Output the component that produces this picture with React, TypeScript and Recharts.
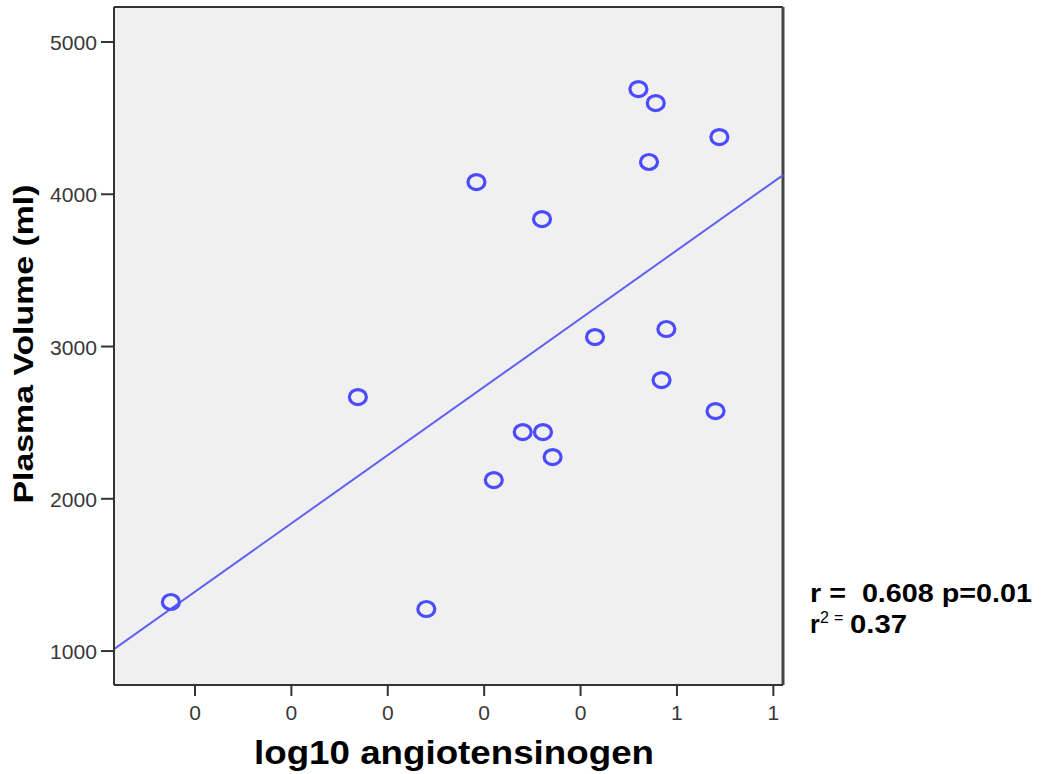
import { ScatterChart, Scatter, XAxis, YAxis, CartesianGrid, ReferenceLine } from 'recharts'

// values
const angiotensinogen = [
  -0.025, 0.169, 0.24, 0.292, 0.31, 0.34, 0.36, 0.361, 0.371, 0.415, 0.46, 0.471, 0.478,
  0.484, 0.489, 0.54, 0.544,
]
const plasmaVolume = [
  1322, 2668, 1276, 4080, 2123, 2438, 3837, 2438, 2274, 3062, 4691, 4212, 4599, 2780, 3115,
  2576, 4376,
]
const fitX = [-0.084, 0.61]
const fitY = [1013, 4126]

const xTicks = [0, 0.1, 0.2, 0.3, 0.4, 0.5, 0.6]
const xTickLabels = ['0', '0', '0', '0', '0', '1', '1']
const yTicks = [1000, 2000, 3000, 4000, 5000]
const xDomain = [-0.084, 0.61]
const yDomain = [777, 5230]

const points = angiotensinogen.map((x, i) => ({ x, y: plasmaVolume[i] }))

const FONT = '"Liberation Sans", Arial, sans-serif'
const BLUE = '#4c4cff'

function Ring(props: any) {
  const { cx, cy } = props
  if (cx == null || cy == null) return null
  return <ellipse cx={cx} cy={cy} rx={8.5} ry={7.5} fill="none" stroke={BLUE} strokeWidth={3.2} />
}

function XTick(props: any) {
  const { x, y, index } = props
  return (
    <text x={x} y={y + 24} textAnchor="middle" fontFamily={FONT} fontSize={21} fill="#383838">
      {xTickLabels[index]}
    </text>
  )
}

function YTick(props: any) {
  const { x, y, payload } = props
  return (
    <text
      x={x}
      y={y + 8}
      textAnchor="end"
      fontFamily={FONT}
      fontSize={21}
      textLength={47}
      lengthAdjust="spacingAndGlyphs"
      fill="#383838"
    >
      {payload.value}
    </text>
  )
}

export default function App() {
  return (
    <div style={{ position: 'absolute', left: 0, top: 0, width: 1041, height: 774, background: '#fff' }}>
      <ScatterChart width={1041} height={774} margin={{ top: 7, right: 258, bottom: 0, left: 0 }}>
        <CartesianGrid fill="#f0f0f0" horizontal={false} vertical={false} />
        <XAxis
          type="number"
          dataKey="x"
          domain={xDomain}
          allowDataOverflow
          ticks={xTicks}
          interval={0}
          height={89}
          tickSize={11}
          tickMargin={0}
          tick={<XTick />}
          tickLine={{ stroke: '#333', strokeWidth: 2 }}
          axisLine={{ stroke: '#333', strokeWidth: 2 }}
        />
        <YAxis
          type="number"
          dataKey="y"
          domain={yDomain}
          allowDataOverflow
          ticks={yTicks}
          interval={0}
          width={114}
          tickSize={13}
          tickMargin={4}
          tick={<YTick />}
          tickLine={{ stroke: '#333', strokeWidth: 2 }}
          axisLine={{ stroke: '#333', strokeWidth: 2 }}
        />
        <ReferenceLine y={yDomain[1]} stroke="#333" strokeWidth={2} />
        <ReferenceLine x={xDomain[1]} stroke="#444" strokeWidth={3} />
        <ReferenceLine
          segment={[
            { x: fitX[0], y: fitY[0] },
            { x: fitX[1], y: fitY[1] },
          ]}
          stroke="#6262f2"
          strokeWidth={2}
        />
        <Scatter data={points} shape={Ring} isAnimationActive={false} />
      </ScatterChart>
      <svg
        width={1041}
        height={774}
        style={{ position: 'absolute', left: 0, top: 0, pointerEvents: 'none' }}
      >
        <text
          transform="translate(33,344) rotate(-90)"
          textAnchor="middle"
          fontFamily={FONT}
          fontWeight="bold"
          fontSize={28}
          textLength={319}
          lengthAdjust="spacingAndGlyphs"
          fill="#000"
        >
          Plasma Volume (ml)
        </text>
        <text
          x={454}
          y={764}
          textAnchor="middle"
          fontFamily={FONT}
          fontWeight="bold"
          fontSize={34}
          textLength={400}
          lengthAdjust="spacingAndGlyphs"
          fill="#000"
        >
          log10 angiotensinogen
        </text>
        <g fontFamily={FONT} fontWeight="bold" fill="#000">
          <text
            x={810}
            y={602}
            fontSize={25}
            textLength={222}
            lengthAdjust="spacingAndGlyphs"
            style={{ whiteSpace: 'pre' }}
          >
            {'r =  0.608 p=0.01'}
          </text>
          <text x={810} y={633} fontSize={25}>
            r
          </text>
          <text x={820} y={623} fontSize={16} fontWeight="normal">
            2
          </text>
          <text x={834} y={623} fontSize={16} fontWeight="normal">
            =
          </text>
          <text x={850} y={633} fontSize={25} textLength={57} lengthAdjust="spacingAndGlyphs">
            0.37
          </text>
        </g>
      </svg>
    </div>
  )
}
